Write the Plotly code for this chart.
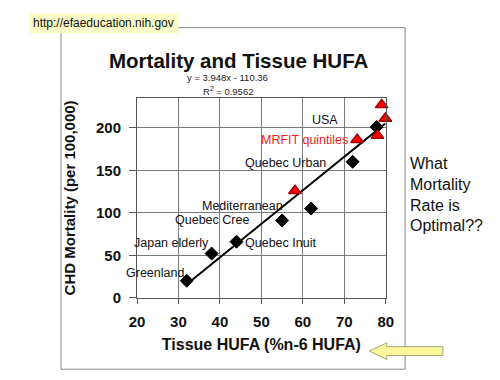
import plotly.graph_objects as go

# ---------------- data ----------------
populations = ["Greenland", "Japan elderly", "Quebec Inuit", "Quebec Cree",
               "Mediterranean", "Quebec Urban", "USA"]
pop_hufa = [32, 38, 44, 55, 62, 72, 77.8]
pop_mortality = [20, 52, 66, 91, 105, 160, 201]

mrfit_hufa = [58.1, 73.1, 78.0, 79.0, 79.9]
mrfit_mortality = [126, 186, 191, 227, 211]

fit_slope = 3.948
fit_intercept = -110.36
r_squared = 0.9562

x_ticks = [20, 30, 40, 50, 60, 70, 80]
y_ticks = [0, 50, 100, 150, 200]

# ---------------- figure ----------------
W, H = 500, 380
FONT = "Arial, Liberation Sans, sans-serif"


def px(x):
    return x / W


def py(y):
    return 1 - y / H


fig = go.Figure()

all_x = pop_hufa + mrfit_hufa
x0, x1 = min(all_x), max(all_x)
fig.add_trace(go.Scatter(
    x=[x0, x1],
    y=[fit_slope * x0 + fit_intercept, fit_slope * x1 + fit_intercept],
    mode="lines", line=dict(color="black", width=2),
    hoverinfo="skip", showlegend=False))

fig.add_trace(go.Scatter(
    x=pop_hufa, y=pop_mortality, mode="markers", text=populations,
    marker=dict(symbol="diamond", size=10, color="black",
                line=dict(color="black", width=1)),
    showlegend=False, cliponaxis=False))

fig.add_trace(go.Scatter(
    x=mrfit_hufa, y=mrfit_mortality, mode="markers",
    marker=dict(symbol="triangle-up", size=11, color="#ff0000",
                line=dict(color="#a00000", width=1.5)),
    showlegend=False, cliponaxis=False))

# point labels (position in data units, anchor)
label_pos = {
    "Greenland": (31.5, 29, "right"),
    "Japan elderly": (37.7, 64, "right"),
    "Quebec Inuit": (45.9, 64, "left"),
    "Quebec Cree": (47.3, 91, "right"),
    "Mediterranean": (55.4, 108, "right"),
    "Quebec Urban": (65.9, 159, "right"),
    "USA": (68.7, 209, "right"),
}
LBL = 12.5
annotations = []
for name in populations:
    lx, ly, anc = label_pos[name]
    annotations.append(dict(x=lx, y=ly, xref="x", yref="y", text=name,
                            showarrow=False, xanchor=anc, yanchor="middle",
                            borderpad=0,
                            font=dict(family=FONT, size=LBL, color="#111")))
annotations.append(dict(x=71.2, y=186, xref="x", yref="y", text="MRFIT quintiles",
                        showarrow=False, xanchor="right", yanchor="middle",
                        borderpad=0,
                        font=dict(family=FONT, size=LBL, color="#ee1c1c")))

# title and fit text
annotations += [
    dict(x=px(230), y=py(54), xref="paper", yref="paper",
         text="<b>Mortality and Tissue HUFA</b>", showarrow=False,
         xanchor="center", yanchor="middle", borderpad=0,
         font=dict(family=FONT, size=20.5, color="#111")),
    dict(x=px(218), y=py(71.5), xref="paper", yref="paper",
         text=f"y = {fit_slope}x - {abs(fit_intercept)}", showarrow=False,
         xanchor="center", yanchor="middle", borderpad=0,
         font=dict(family=FONT, size=9.5, color="#222")),
    dict(x=px(219), y=py(84.5), xref="paper", yref="paper",
         text=f"R<sup>2</sup> = {r_squared}", showarrow=False,
         xanchor="center", yanchor="middle", borderpad=0,
         font=dict(family=FONT, size=9.5, color="#222")),
    dict(x=px(16), y=py(15), xref="paper", yref="paper",
         text="http://efaeducation.nih.gov", showarrow=False,
         xanchor="left", yanchor="middle",
         font=dict(family=FONT, size=12, color="#111")),
    dict(x=px(405), y=py(190), xref="paper", yref="paper",
         text="What<br>Mortality<br>Rate is<br>Optimal??", showarrow=False,
         xanchor="left", yanchor="middle", align="left",
         font=dict(family=FONT, size=16, color="#111")),
]

shapes = [
    # slide frame
    dict(type="rect", xref="paper", yref="paper",
         x0=px(46.5), x1=px(402), y0=py(369), y1=py(20),
         line=dict(color="#888888", width=1), fillcolor="rgba(0,0,0,0)",
         layer="below"),
    # url box
    dict(type="rect", xref="paper", yref="paper",
         x0=px(14), x1=px(168), y0=py(26), y1=py(5),
         line=dict(width=0), fillcolor="#fbfbc8", layer="below"),
    # yellow arrow
    dict(type="path", xref="paper", yref="paper",
         path=(f"M {px(365)} {py(350.5)} L {px(383)} {py(342)} L {px(383)} {py(346)} "
               f"L {px(441)} {py(346)} L {px(441)} {py(355)} L {px(383)} {py(355)} "
               f"L {px(383)} {py(359)} Z"),
         fillcolor="#fbf79a", line=dict(color="#a8a878", width=1)),
]

tick_font = dict(family=FONT, size=15, color="#111", weight="bold")

fig.update_layout(
    width=W, height=H,
    margin=dict(l=0, r=0, t=0, b=0),
    paper_bgcolor="white", plot_bgcolor="white",
    font=dict(family=FONT, color="#111"),
    annotations=annotations, shapes=shapes,
    xaxis=dict(domain=[px(125), px(382)], range=[20, 80],
               tickvals=x_ticks, ticks="outside", ticklen=5,
               tickcolor="#555", showgrid=True, gridcolor="#7a7a7a",
               gridwidth=1, showline=True, linecolor="#555", mirror=True,
               zeroline=False, tickfont=tick_font, ticklabelstandoff=5,
               title=dict(text="Tissue HUFA (%n-6 HUFA)", standoff=10,
                          font=dict(family=FONT, size=16, color="#111",
                                    weight="bold"))),
    yaxis=dict(domain=[py(296), py(92)], range=[0, 235],
               tickvals=y_ticks, ticks="outside", ticklen=7,
               tickcolor="#555", showgrid=True, gridcolor="#7a7a7a",
               gridwidth=1, showline=True, linecolor="#555", mirror=True,
               zeroline=False, tickfont=tick_font, ticklabelstandoff=5,
               title=dict(text="CHD Mortality (per 100,000)", standoff=16,
                          font=dict(family=FONT, size=15, color="#111",
                                    weight="bold"))),
)

fig.write_html("out.html")
